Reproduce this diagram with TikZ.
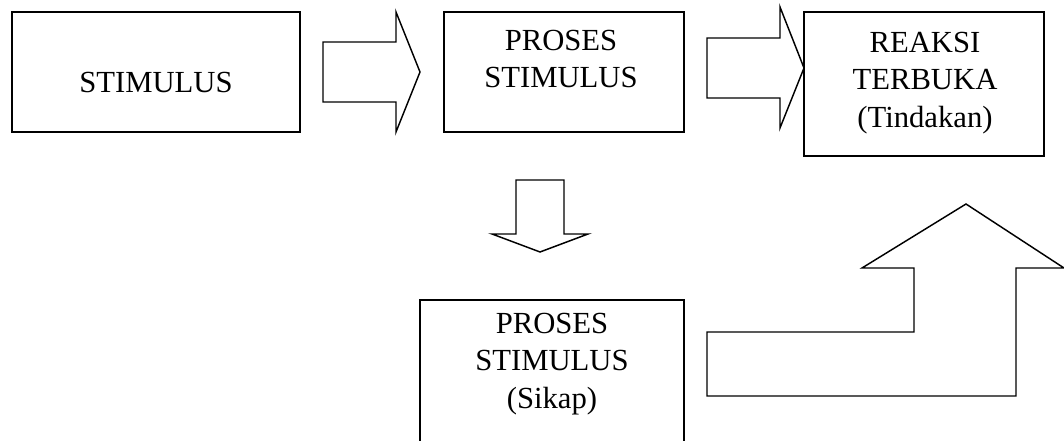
\documentclass[tikz,border=0pt]{standalone}
\usepackage{fontspec}
\setmainfont{Liberation Serif}
\begin{document}
\begin{tikzpicture}[x=.75pt, y=-.75pt, line join=miter,
        kotak/.style={draw, line width=1.4pt, rectangle, inner sep=0pt},
        teks/.style={anchor=north, inner sep=0pt, align=center, font=\fontsize{23}{28}\selectfont},
        panah/.style={draw, line width=1.1pt}]
        \clip (0,0) rectangle (1064,441);
        % kotak
        \node[kotak, minimum width=216pt, minimum height=90pt] (stim) at (156,72) {};
        \node[kotak, minimum width=180pt, minimum height=90pt] (proses) at (564,72) {};
        \node[kotak, minimum width=180pt, minimum height=108pt] (reaksi) at (924,84) {};
        \node[kotak, minimum width=198pt, minimum height=127.5pt] (sikap) at (552,385) {};
        % teks
        \node[teks] (tstim) at (156,72) {STIMULUS};
        \node[teks] (tproses) at (561,30) {PROSES\\STIMULUS};
        \node[teks] (treaksi) at (925,32) {REAKSI\\TERBUKA\\(Tindakan)};
        \node[teks] (tsikap) at (552,313) {PROSES\\STIMULUS\\(Sikap)};
        % panah
        \draw[panah] (323,42) -- (396,42) -- (396,12) -- (420,72) -- (396,132) -- (396,102) -- (323,102) -- cycle;
        \draw[panah] (707,38) -- (780,38) -- (780,7) -- (804,68) -- (780,128) -- (780,98) -- (707,98) -- cycle;
        \draw[panah] (516,180) -- (564,180) -- (564,234) -- (588,234) -- (540,252) -- (492,234) -- (516,234) -- cycle;
        \draw[panah] (707,396) -- (1016,396) -- (1016,268) -- (1064,268) -- (966,204) -- (862,268)
            -- (914,268) -- (914,332) -- (707,332) -- cycle;
    \end{tikzpicture}
\end{document}
